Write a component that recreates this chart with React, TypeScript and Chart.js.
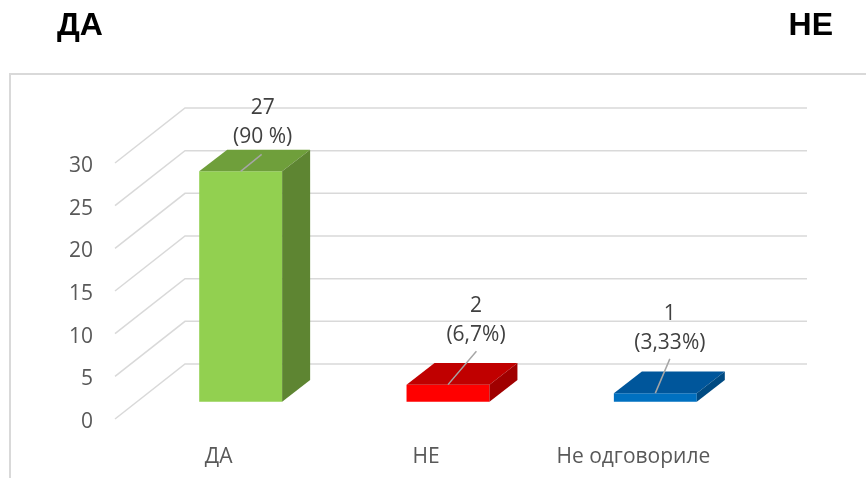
import React, { useEffect, useRef } from "react";
import { Chart, registerables } from "chart.js";

Chart.register(...registerables);

// ---- data ----
const categories = ["ДА", "НЕ", "Не одговориле"];
const counts = [27, 2, 1];
const percentLabels = ["(90 %)", "(6,7%)", "(3,33%)"];
const yMin = 0;
const yMax = 30;
const yStep = 5;
const titleLeft = "ДА";
const titleRight = "НЕ";

// ---- styles ----
const frontColors = ["#92D050", "#FF0000", "#0070C0"];
const topColors = ["#6F9F3B", "#C00000", "#00569B"];
const sideColors = ["#5E8532", "#A00000", "#004A82"];
// label placement relative to the top-front centre of each bar (px)
const labelOffsets = [
  { x: 22, y: -63, lx: 21, ly: -17 },
  { x: 28, y: -78.5, lx: 28.4, ly: -33.3 },
  { x: 14.5, y: -79.3, lx: 14.5, ly: -34.3 },
];
const FLOOR = { dx: 70, dy: -55 };
const SHIFT = { dx: 22, dy: -17.3 };
const DEPTH = { dx: 28, dy: -21.6 };
const FONT = "'Open Sans', sans-serif";

const pseudo3d = {
  id: "pseudo3d",
  beforeDraw(chart: any) {
    const ctx = chart.ctx;
    ctx.save();
    ctx.fillStyle = "#ffffff";
    ctx.fillRect(0, 0, chart.width, chart.height);
    ctx.strokeStyle = "#d9d9d9";
    ctx.lineWidth = 2;
    ctx.strokeRect(10, 74, chart.width + 40, chart.height + 40);
    ctx.fillStyle = "#000000";
    ctx.font = "bold 32px 'Liberation Sans', Arial, sans-serif";
    ctx.textBaseline = "alphabetic";
    ctx.textAlign = "left";
    ctx.fillText(titleLeft, 57, 35);
    ctx.textAlign = "right";
    ctx.fillText(titleRight, 833, 35);
    ctx.restore();
  },
  beforeDatasetsDraw(chart: any) {
    const { ctx, chartArea, scales } = chart;
    const y = scales.y;
    ctx.save();
    ctx.strokeStyle = "#d9d9d9";
    ctx.lineWidth = 1.5;
    y.ticks.forEach((t: any) => {
      const py = y.getPixelForValue(t.value);
      ctx.beginPath();
      ctx.moveTo(chartArea.left, py);
      ctx.lineTo(chartArea.left + FLOOR.dx, py + FLOOR.dy);
      ctx.lineTo(chartArea.right + FLOOR.dx, py + FLOOR.dy);
      ctx.stroke();
    });
    ctx.restore();
    ctx.save();
    ctx.translate(SHIFT.dx, SHIFT.dy);
  },
  afterDatasetsDraw(chart: any) {
    const ctx = chart.ctx;
    const meta = chart.getDatasetMeta(0);
    meta.data.forEach((bar: any, i: number) => {
      const { x, y, base, width } = bar.getProps(["x", "y", "base", "width"], true);
      const l = x - width / 2;
      const r = x + width / 2;
      ctx.fillStyle = topColors[i];
      ctx.beginPath();
      ctx.moveTo(l, y);
      ctx.lineTo(r, y);
      ctx.lineTo(r + DEPTH.dx, y + DEPTH.dy);
      ctx.lineTo(l + DEPTH.dx, y + DEPTH.dy);
      ctx.closePath();
      ctx.fill();
      ctx.fillStyle = sideColors[i];
      ctx.beginPath();
      ctx.moveTo(r, y);
      ctx.lineTo(r + DEPTH.dx, y + DEPTH.dy);
      ctx.lineTo(r + DEPTH.dx, base + DEPTH.dy);
      ctx.lineTo(r, base);
      ctx.closePath();
      ctx.fill();
    });
    ctx.restore();

    ctx.save();
    meta.data.forEach((bar: any, i: number) => {
      const { x, y } = bar.getProps(["x", "y"], true);
      const ax = x + SHIFT.dx;
      const ay = y + SHIFT.dy;
      const o = labelOffsets[i];
      ctx.strokeStyle = "#a6a6a6";
      ctx.lineWidth = 1.5;
      ctx.beginPath();
      ctx.moveTo(ax, ay);
      ctx.lineTo(ax + o.lx, ay + o.ly);
      ctx.stroke();
      ctx.fillStyle = "#404040";
      ctx.font = `21px ${FONT}`;
      ctx.textAlign = "center";
      ctx.textBaseline = "middle";
      ctx.fillText(String(counts[i]), ax + o.x, ay + o.y);
      ctx.fillText(percentLabels[i], ax + o.x, ay + o.y + 29);
    });
    ctx.restore();
  },
};

export default function App() {
  const ref = useRef<HTMLCanvasElement>(null);
  useEffect(() => {
    const chart = new Chart(ref.current as HTMLCanvasElement, {
      type: "bar",
      data: {
        labels: categories,
        datasets: [
          {
            data: counts,
            backgroundColor: frontColors,
            borderWidth: 0,
            barPercentage: 0.4,
            categoryPercentage: 1,
            clip: false as any,
          },
        ],
      },
      options: {
        responsive: false,
        devicePixelRatio: 1,
        animation: false,
        layout: { padding: { top: 163, right: 129, left: 0, bottom: 0 } },
        plugins: { legend: { display: false }, tooltip: { enabled: false } },
        scales: {
          x: {
            type: "category",
            offset: true,
            grid: { display: false },
            border: { display: false },
            ticks: {
              color: "#595959",
              font: { family: FONT, size: 21 },
              padding: 17,
              maxRotation: 0,
              autoSkip: false,
            },
            afterFit: (s: any) => {
              s.height = 59;
            },
          },
          y: {
            type: "linear",
            min: yMin,
            max: yMax,
            grid: { display: false },
            border: { display: false },
            ticks: {
              stepSize: yStep,
              color: "#595959",
              font: { family: FONT, size: 21 },
              padding: 14,
              labelOffset: 3,
            },
            afterFit: (s: any) => {
              s.width = 115;
            },
          },
        },
      },
      plugins: [pseudo3d],
    });
    return () => chart.destroy();
  }, []);
  return (
    <div style={{ position: "fixed", left: 0, top: 0, width: 866, height: 478, background: "#fff", overflow: "hidden" }}>
      <canvas ref={ref} width={866} height={478} style={{ display: "block", width: 866, height: 478 }} />
    </div>
  );
}
